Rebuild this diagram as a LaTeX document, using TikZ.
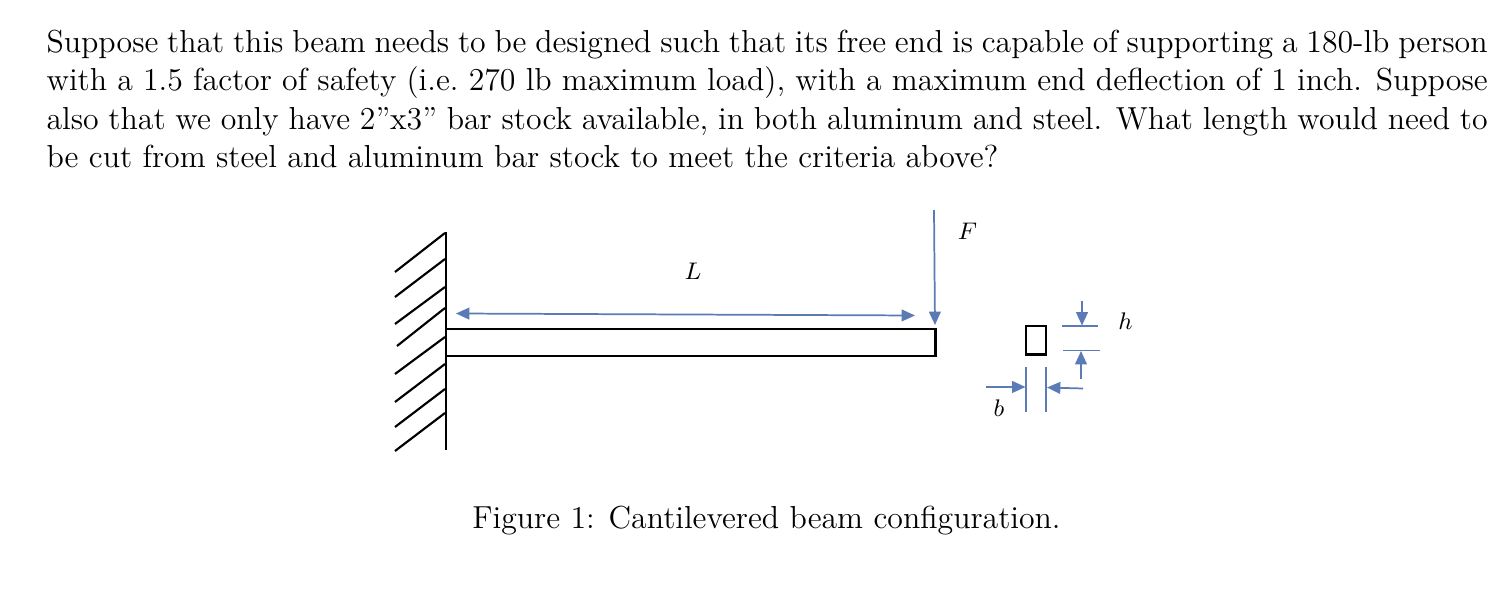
\documentclass[tikz,border=0pt]{standalone}
\usepackage{amsmath, amssymb}
\usetikzlibrary{arrows.meta}
\definecolor{dimblue}{HTML}{5B7BB6}

\begin{document}
\begin{tikzpicture}[x = 0.3745pt, y = -0.3745pt, font=\fontsize{11.92pt}{14.35pt}\selectfont]
	\tikzstyle{textStyle} = [inner sep = 0pt, anchor = north west, text width = 539.7pt, align = justify]
	\tikzstyle{symbolStyle} = [inner sep = 0pt, font = \fontsize{9pt}{10pt}\selectfont]
	\tikzstyle{solidStyle} = [draw = black, line width = 0.8pt]
	\tikzstyle{dimStyle} = [draw = dimblue, line width = 0.65pt]
	\tikzstyle{dimArrowStyle} = [dimStyle, -{Triangle[length = 5pt, width = 4.4pt]}]
	\useasboundingbox (0, 0) rectangle (1494, 598);
	\node[textStyle] (problem) at (46, 29.5) {Suppose that this beam needs to be designed such that its free end is capable of supporting a 180-lb person with a 1.5 factor of safety (i.e.\ 270 lb maximum load), with a maximum end deflection of 1 inch. Suppose also that we only have 2”x3” bar stock available, in both aluminum and steel. What length would need to\linebreak be cut from steel and aluminum bar stock to meet the criteria above?};
	\node[inner sep = 0pt, anchor = base] (caption) at (766.5, 529) {Figure 1: Cantilevered beam configuration.};
	% wall
	\coordinate (wallTop) at (446, 232);
	\coordinate (wallBottom) at (446, 450);
	\draw[solidStyle] (wallTop) -- (wallBottom);
	\foreach \i/\xa/\ya/\yb in {0/395/272/233, 1/395/297/259, 2/395/324/287, 3/397/346/308, 4/395/374/337, 5/395/402/364, 6/395/427/389, 7/395/451/413} {
		\coordinate (hatchA\i) at (\xa, \ya);
		\coordinate (hatchB\i) at (445, \yb);
		\draw[solidStyle] (hatchA\i) -- (hatchB\i);
	}
	% beam
	\coordinate (beamNW) at (446, 329);
	\coordinate (beamSE) at (935.5, 356);
	\draw[solidStyle] (beamNW) rectangle (beamSE);
	% section
	\coordinate (sectionNW) at (1026, 326);
	\coordinate (sectionSE) at (1046, 354.5);
	\draw[solidStyle, line width = 1pt] (sectionNW) rectangle (sectionSE);
	% L
	\coordinate (lengthA) at (456, 313.5);
	\coordinate (lengthB) at (915, 315.5);
	\draw[dimStyle, {Triangle[length = 5pt, width = 4.4pt]}-{Triangle[length = 5pt, width = 4.4pt]}] (lengthA) -- (lengthB);
	\node[symbolStyle] (labelL) at (693, 271) {$L$};
	% F
	\coordinate (forceA) at (934, 210);
	\coordinate (forceB) at (935, 325);
	\draw[dimArrowStyle] (forceA) -- (forceB);
	\node[symbolStyle] (labelF) at (967.5, 231.5) {$F$};
	% b
	\coordinate (bLeftA) at (1026, 367);
	\coordinate (bLeftB) at (1026, 412);
	\coordinate (bRightA) at (1046, 367);
	\coordinate (bRightB) at (1046, 412);
	\coordinate (bArrowA) at (986, 387);
	\coordinate (bArrowB) at (1025.5, 387);
	\coordinate (bArrowC) at (1083, 388.5);
	\coordinate (bArrowD) at (1047, 387.5);
	\draw[dimStyle] (bLeftA) -- (bLeftB);
	\draw[dimStyle] (bRightA) -- (bRightB);
	\draw[dimArrowStyle] (bArrowA) -- (bArrowB);
	\draw[dimArrowStyle] (bArrowC) -- (bArrowD);
	\node[symbolStyle] (labelb) at (999, 408.5) {$b$};
	% h
	\coordinate (hTopA) at (1062, 326);
	\coordinate (hTopB) at (1098, 326);
	\coordinate (hBottomA) at (1063, 350.5);
	\coordinate (hBottomB) at (1100, 350.5);
	\coordinate (hArrowA) at (1082, 301);
	\coordinate (hArrowB) at (1082, 325.5);
	\coordinate (hArrowC) at (1081, 379);
	\coordinate (hArrowD) at (1081, 351);
	\draw[dimStyle] (hTopA) -- (hTopB);
	\draw[dimStyle] (hBottomA) -- (hBottomB);
	\draw[dimArrowStyle] (hArrowA) -- (hArrowB);
	\draw[dimArrowStyle] (hArrowC) -- (hArrowD);
	\node[symbolStyle] (labelh) at (1125.5, 321) {$h$};
\end{tikzpicture}
\end{document}
